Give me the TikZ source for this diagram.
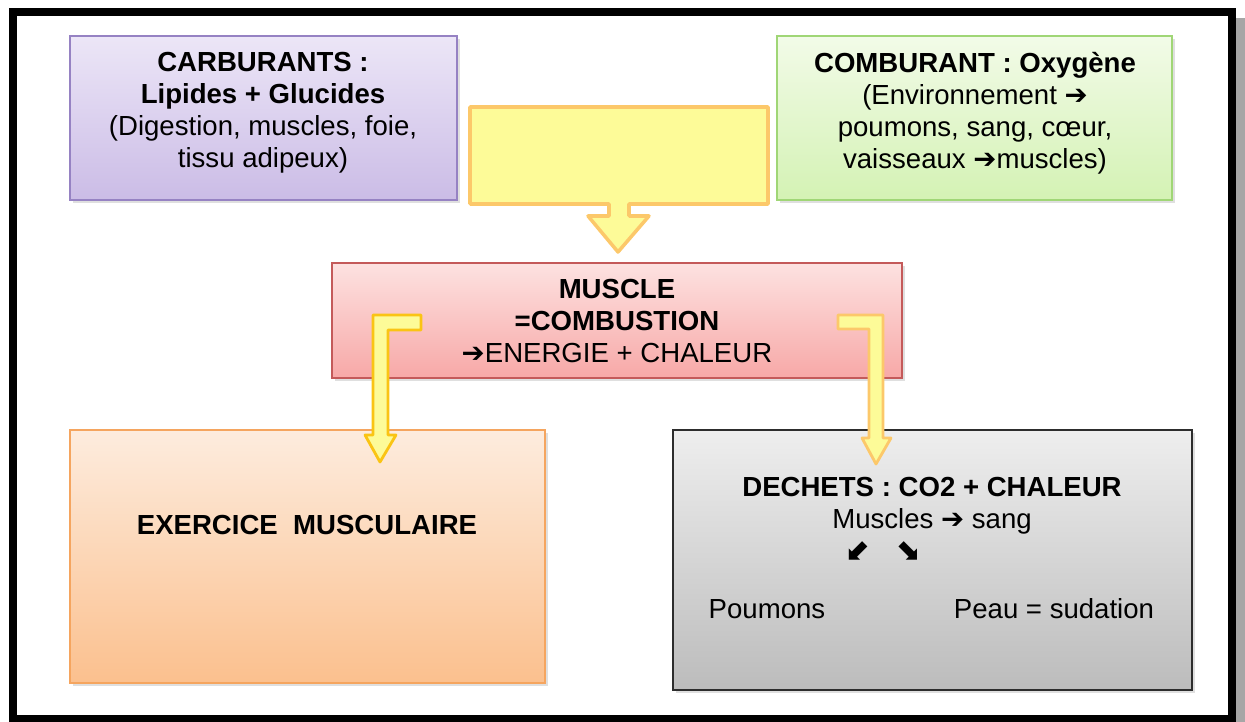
\documentclass[tikz,border=0pt]{standalone}
\usepackage{fontspec}
\setmainfont{Liberation Sans}
\newfontfamily\arrowfont{DejaVu Sans}
\usepackage{tikz}
\usetikzlibrary{shadows}
\tikzset{>=latex}
\definecolor{carbtop}{RGB}{236, 230, 247}
\definecolor{carbbot}{RGB}{203, 188, 230}
\definecolor{carbline}{RGB}{150, 130, 195}
\definecolor{combtop}{RGB}{242, 251, 232}
\definecolor{combbot}{RGB}{212, 242, 180}
\definecolor{combline}{RGB}{160, 214, 118}
\definecolor{musctop}{RGB}{253, 226, 225}
\definecolor{muscbot}{RGB}{247, 168, 167}
\definecolor{muscline}{RGB}{196, 90, 90}
\definecolor{exertop}{RGB}{253, 236, 222}
\definecolor{exerbot}{RGB}{251, 192, 142}
\definecolor{exerline}{RGB}{245, 165, 95}
\definecolor{dechtop}{RGB}{238, 238, 238}
\definecolor{dechbot}{RGB}{188, 188, 188}
\definecolor{dechline}{RGB}{45, 45, 45}
\definecolor{flecfill}{RGB}{253, 251, 152}
\definecolor{flecline}{RGB}{252, 200, 106}
\definecolor{flecgold}{RGB}{250, 196, 20}
\tikzset{
  bloc/.style={draw, line width=0.8pt, inner sep=0pt, align=center,
    drop shadow={shadow xshift=0.6mm, shadow yshift=-0.6mm, opacity=0.25}},
  fleche/.style={fill=flecfill, line width=2pt, line join=round},
  txt/.style={align=center, font=\fontsize{15.7}{18.2}\selectfont, inner sep=0pt}
}
\newcommand{\fl}{{\arrowfont\bfseries ➔}}
\begin{document}
\begin{tikzpicture}[x=0.02cm, y=-0.02cm]
\useasboundingbox (0,0) rectangle (1245,722);
\fill[black!35] (1236,18) rectangle (1245,722);
\draw[line width=4pt] (13,12) rectangle (1232,719);

\node[bloc, draw=carbline, top color=carbtop, bottom color=carbbot,
  minimum width=7.74cm, minimum height=3.28cm] (carb) at (263.5,118) {};
\node[txt] (carbtxt) at (263,113) {\textbf{CARBURANTS :}\\ \textbf{Lipides + Glucides}\\ (Digestion, muscles, foie,\\ tissu adipeux)};

\node[bloc, draw=combline, top color=combtop, bottom color=combbot,
  minimum width=7.9cm, minimum height=3.28cm] (comb) at (974.5,118) {};
\node[txt] (combtxt) at (975,113) {\textbf{COMBURANT : Oxygène}\\ (Environnement \fl\\ poumons, sang, cœur,\\ vaisseaux \fl muscles)};

\draw[fleche, draw=flecline] (470,107) -- (768,107) -- (768,204) -- (629,204) -- (629,216) -- (649,216)
  -- (618,252) -- (588,216) -- (609,216) -- (609,204) -- (470,204) -- cycle;

\node[bloc, draw=muscline, top color=musctop, bottom color=muscbot,
  minimum width=11.4cm, minimum height=2.3cm] (musc) at (617,320.5) {};
\node[txt] (musctxt) at (617,321) {\textbf{MUSCLE}\\ \textbf{=COMBUSTION}\\ \fl ENERGIE + CHALEUR};

\node[bloc, draw=exerline, top color=exertop, bottom color=exerbot,
  minimum width=9.5cm, minimum height=5.06cm] (exer) at (307.5,556.5) {};
\node[txt] (exertxt) at (307,525) {\textbf{EXERCICE~ MUSCULAIRE}};

\node[bloc, draw=dechline, top color=dechtop, bottom color=dechbot,
  minimum width=10.38cm, minimum height=5.2cm] (dech) at (932.5,560) {};
\node[txt] (dechtxt) at (932,506) {\textbf{DECHETS : CO2 + CHALEUR}\\ Muscles \fl{} sang};
\node[txt, font=\fontsize{17}{18}\selectfont] (dechfl) at (883,551) {{\arrowfont\bfseries ⬋\hspace{0.8em}⬊}};
\node[txt] (poumons) at (767,609) {Poumons};
\node[txt] (peau) at (1054,609) {Peau = sudation};

\draw[fleche, draw=flecgold, line width=1.6pt] (421,315) -- (373,315) -- (373,435) -- (365,435) -- (380,462)
  -- (396,435) -- (388,435) -- (388,330) -- (421,330) -- cycle;
\draw[fleche, draw=flecline, line width=1.6pt] (838,315) -- (883,315) -- (883,438) -- (891,438) -- (876,464)
  -- (862,438) -- (869,438) -- (869,329) -- (838,329) -- cycle;
\end{tikzpicture}
\end{document}
